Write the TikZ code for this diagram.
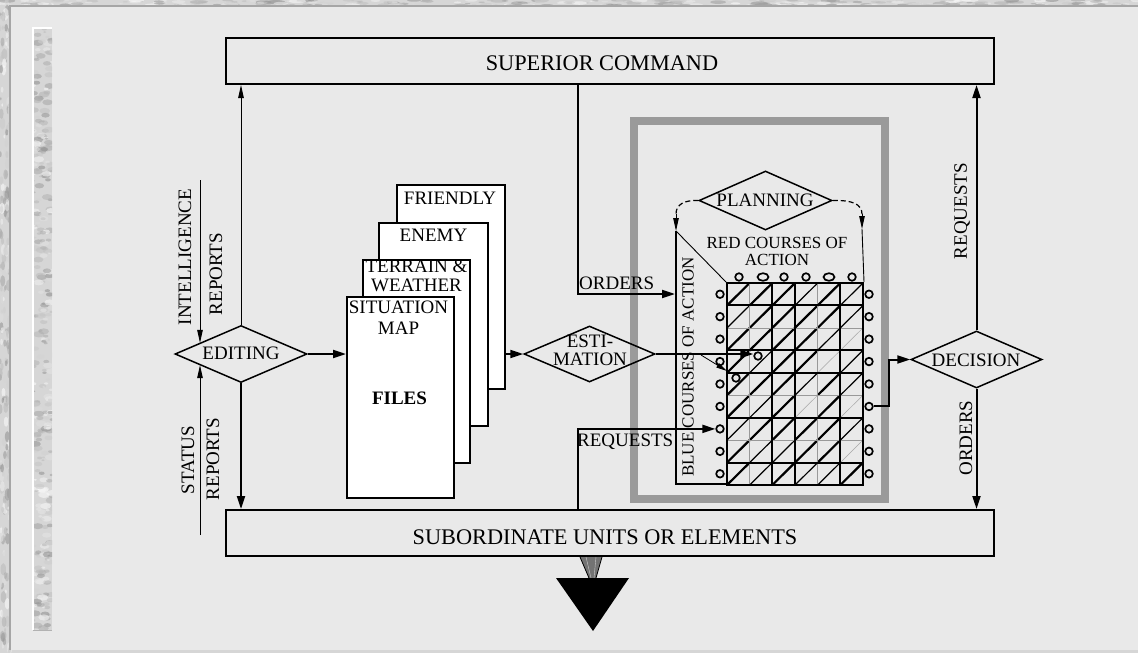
\documentclass[tikz,border=0pt]{standalone}
\usepackage{fontspec}
\setmainfont{Liberation Serif}
\usetikzlibrary{shapes.geometric,arrows.meta,calc}

\definecolor{panel}{HTML}{E9E9E9}
\definecolor{marble}{HTML}{D6D6D6}
\definecolor{framegray}{HTML}{9A9A9A}

\tikzset{
  box/.style={draw, line width=2pt, inner sep=0pt},
  filebox/.style={draw, line width=2pt, fill=white, inner sep=0pt,
    minimum width=107pt, minimum height=203pt, anchor=north west},
  dia/.style={draw, diamond, line width=1.5pt, inner sep=0pt,
    minimum width=132pt, minimum height=57pt},
  arr/.style={-{Triangle[length=13pt,width=8pt]}, line width=2pt},
  thinarr/.style={-{Triangle[length=13pt,width=5.5pt]}, line width=0.9pt},
  biglbl/.style={inner sep=0pt, font=\fontsize{22.3}{22}\selectfont},
  lbl/.style={inner sep=0pt, align=center, font=\fontsize{19}{19}\selectfont},
  smalllbl/.style={inner sep=0pt, align=center, font=\fontsize{17}{17}\selectfont},
  dot/.style={circle, draw, line width=1.7pt, minimum size=7.6pt, inner sep=0pt},
  topdot/.style={ellipse, draw, line width=1.7pt, minimum height=7.6pt, inner sep=0pt},
  d1/.style={line width=0.5pt, black!35},
  d2/.style={line width=1.2pt, black},
  d3/.style={line width=2.2pt, black},
  gridthin/.style={line width=0.6pt, black!40},
  gridthick/.style={line width=2pt, black},
  blot/.style={opacity=0.55},
}

\begin{document}
\begin{tikzpicture}[x=1pt, y=-1pt]
\useasboundingbox (0,0) rectangle (1138,653);

% ---------- marbled backdrop and panel ----------
\fill[marble] (0,0) rectangle (1138,653);
\pgfmathsetseed{17}
\foreach \i in {1,...,320}{
  \pgfmathsetmacro\px{rnd*1138}
  \pgfmathsetmacro\py{rnd*6}
  \pgfmathsetmacro\pr{1+rnd*3}
  \pgfmathsetmacro\pc{rnd*100}
  \fill[blot, white!\pc!black!45] (\px,\py) ellipse [x radius=\pr*2.2, y radius=\pr*0.5];
}
\foreach \i in {1,...,200}{
  \pgfmathsetmacro\px{rnd*10}
  \pgfmathsetmacro\py{rnd*653}
  \pgfmathsetmacro\pr{1+rnd*2.5}
  \pgfmathsetmacro\pc{rnd*100}
  \fill[blot, white!\pc!black!45] (\px,\py) ellipse [x radius=\pr*0.8, y radius=\pr*1.8];
}
\fill[panel] (10,6) rectangle (1138,650);
\draw[black!35, line width=1.2pt] (10,650) |- (1138,6);

% left marbled strip
\fill[marble] (33,28) rectangle (52,630);
\begin{scope}
  \clip (33,28) rectangle (52,630);
  \foreach \i in {1,...,320}{
    \pgfmathsetmacro\px{33+rnd*19}
    \pgfmathsetmacro\py{28+rnd*602}
    \pgfmathsetmacro\pr{1+rnd*2.6}
    \pgfmathsetmacro\pc{rnd*100}
    \fill[blot, white!\pc!black!45] (\px,\py) ellipse [x radius=\pr*1.6, y radius=\pr*0.9];
  }
\end{scope}
\draw[white, line width=1.6pt] (32.8,630) |- (52,27.8);
\draw[black!30, line width=1pt] (33,630.5) -- (52,630.5);

% ---------- planning frame ----------
\draw[framegray, line width=8pt] (634,121) rectangle (884.5,499);

% ---------- main boxes ----------
\node[box, minimum width=768pt, minimum height=46pt] (sc) at (610,61) {};
\node[biglbl] (sc-lbl) at (602,63) {SUPERIOR COMMAND};
\node[box, minimum width=768pt, minimum height=46pt] (sub) at (610,533) {};
\node[biglbl] (sub-lbl) at (605,537) {SUBORDINATE UNITS OR ELEMENTS};

% ---------- files stack ----------
\node[filebox, minimum width=108pt, minimum height=204pt] (fri) at (396,184) {};
\node[lbl] (fri-lbl) at ($(fri.north)+(-1,14)$) {FRIENDLY};
\node[filebox, minimum width=109pt] (ene) at (378,222) {};
\node[lbl] (ene-lbl) at ($(ene.north)+(0,13)$) {ENEMY};
\node[filebox] (ter) at (362,259) {};
\node[lbl] (ter-lbl) at ($(ter.north)+(0,17)$) {TERRAIN \&\\WEATHER};
\node[filebox, minimum height=201pt] (sit) at (346,296) {};
\node[lbl, font=\fontsize{19}{21}\selectfont] (sit-lbl) at ($(sit.north)+(-2,22)$) {SITUATION\\MAP};
\node[lbl, font=\fontsize{19}{19}\selectfont\bfseries] (files-lbl) at ($(sit.north)+(-1,102)$) {FILES};

% ---------- decision diamonds ----------
\node[dia] (edit) at (241,354) {};
\node[lbl] (edit-lbl) at (241,353) {EDITING};
\node[dia, minimum width=131pt, minimum height=56pt] (est) at (589.5,354) {};
\node[lbl, font=\fontsize{19}{18}\selectfont] (est-lbl) at (590,350) {ESTI-\\MATION};
\node[dia, minimum width=133pt, minimum height=59pt] (plan) at (765.5,200.5) {};
\node[lbl] (plan-lbl) at (765,200) {PLANNING};
\node[dia, minimum width=131pt, minimum height=57pt] (dec) at (976.5,359.5) {};
\node[lbl] (dec-lbl) at (976,360) {DECISION};

% ---------- course-of-action matrix ----------
\def\gw{22.6667}
\def\gh{22.4444}
\foreach \row [count=\r from 0] in {{3,3,3,2,3,2},{2,3,3,3,3,2},{3,3,3,3,2,1},
    {3,2,3,3,1,2},{3,3,3,2,3,2},{3,2,3,1,3,1},{2,3,3,3,3,2},{3,2,2,3,3,1},
    {3,2,3,2,2,3}}{
  \foreach \wd [count=\c from 0] in \row {
    \draw[d\wd] ({727+\c*\gw},{283+(\r+1)*\gh}) -- ({727+(\c+1)*\gw},{283+\r*\gh});
  }
}
\foreach \c in {1,4}
  \draw[gridthin] ({727+\c*\gw},283) -- ({727+\c*\gw},485);
\foreach \r in {2,5,7}
  \draw[gridthin] (727,{283+\r*\gh}) -- (863,{283+\r*\gh});
\foreach \c in {2,3,5}
  \draw[gridthick] ({727+\c*\gw},283) -- ({727+\c*\gw},485);
\foreach \r in {1,3,4,6,8}
  \draw[gridthick] (727,{283+\r*\gh}) -- (863,{283+\r*\gh});
\node[draw, line width=2pt, inner sep=0pt, minimum width=136pt,
      minimum height=202pt] (grid) at (795,384) {};

% option markers round the matrix
\foreach \r in {1,...,9}{
  \node[dot] (lc\r) at (720,{283+(\r-0.5)*\gh}) {};
  \node[dot] (rc\r) at (869,{283+(\r-0.5)*\gh}) {};
}
\foreach \x/\ew [count=\i] in {739/7.6, 763/11, 784/7.6, 806/7.6, 829/11, 852/7.6}
  \node[topdot, minimum width=\ew pt] (tc\i) at (\x,277) {};

% blue and red sides of the matrix
\coordinate (blue-top) at (676,231);
\coordinate (blue-bot) at (676,484);
\coordinate (red-top) at (862,229);
\draw[line width=2pt] (blue-top) -- (blue-bot) -- (blue-bot -| grid.west);
\draw[line width=0.9pt] (blue-top) -- (grid.north west);
\draw[line width=0.9pt] (red-top) -- (grid.north east);
\node[smalllbl, rotate=90] (blue-lbl) at (688,367) {BLUE COURSES OF ACTION};
\node[smalllbl] (red-lbl) at (777,251) {RED COURSES OF\\ACTION};

% planning loops
\draw[dashed, dash pattern=on 5pt off 3pt, line width=1.2pt]
  (plan.west) .. controls (685,200) and (676,204) .. ($(blue-top)+(0,-17)$);
\draw[thinarr] ($(blue-top)+(0,-17)$) -- (blue-top);
\draw[dashed, dash pattern=on 5pt off 3pt, line width=1.2pt]
  (plan.east) .. controls (852,200) and (862,204) .. ($(red-top)+(0,-15)$);
\draw[thinarr] ($(red-top)+(0,-15)$) -- (red-top);

% ---------- connectors ----------
% reports into editing
\coordinate (intel-top) at (200,180);
\coordinate (status-bot) at (200,535);
\draw[thinarr] (intel-top) -- (intel-top |- edit.165);
\draw[thinarr] (status-bot) -- (status-bot |- edit.195);
\node[lbl, rotate=90] (intel-lbl) at (185,257) {INTELLIGENCE};
\node[lbl, rotate=90] (intel-lbl2) at (216,274) {REPORTS};
\node[lbl, rotate=90] (status-lbl) at (188,460) {STATUS};
\node[lbl, rotate=90] (status-lbl2) at (213,459) {REPORTS};

% editing outputs
\draw[thinarr] (edit.north) -- (edit.north |- sc.south);
\draw[arr] (edit.south) -- (edit.south |- sub.north);
\draw[arr] (edit.east) -- (edit.east -| sit.west);

% files to estimation
\draw[arr] (fri.east |- est.west) -- (est.west);

% estimation into the matrix
\node[dot] (ecirc) at (758,356) {};
\node[dot] (ecirc2) at (736,378) {};
\coordinate (branch) at (701,355);
\draw[arr] (est.east) -- (est.east -| ecirc.west);
\draw[-{Triangle[length=11pt,width=5pt]}, line width=0.8pt] (branch) -- (727,371);

% orders from superior command
\coordinate (ord-top) at (578,84);
\coordinate (ord-in) at (675,294);
\draw[arr] (ord-top) |- (ord-in);
\node[lbl, anchor=base west] (ord-lbl) at (579,289) {ORDERS};

% requests from subordinates
\coordinate (req-foot) at (578,510);
\draw[arr] (req-foot) |- (lc7.west);
\node[lbl, anchor=base west] (req-lbl) at (577,446) {REQUESTS};

% matrix to decision
\draw[arr] (rc6.east) -- ++(15,0) |- (dec.west);

% decision outputs
\draw[arr] (dec.north) -- (dec.north |- sc.south);
\draw[arr] (dec.south) -- (dec.south |- sub.north);
\node[lbl, rotate=90] (dreq-lbl) at (962,211) {REQUESTS};
\node[lbl, rotate=90] (dord-lbl) at (966,438) {ORDERS};

% ---------- outflow below the subordinate units ----------
\fill[black!55] (580,557) -- (602,557) -- (596,578) -- (589,578) -- cycle;
\draw[line width=0.8pt] (580,557) -- (589,578);
\draw[line width=0.8pt] (602,557) -- (596,578);
\draw[line width=0.4pt, white!80!black] (586,557) -- (591,578);
\draw[line width=0.4pt, white!80!black] (596,557) -- (594,578);
\fill[black] (556,578) -- (629,578) -- (593,631) -- cycle;

\end{tikzpicture}
\end{document}
